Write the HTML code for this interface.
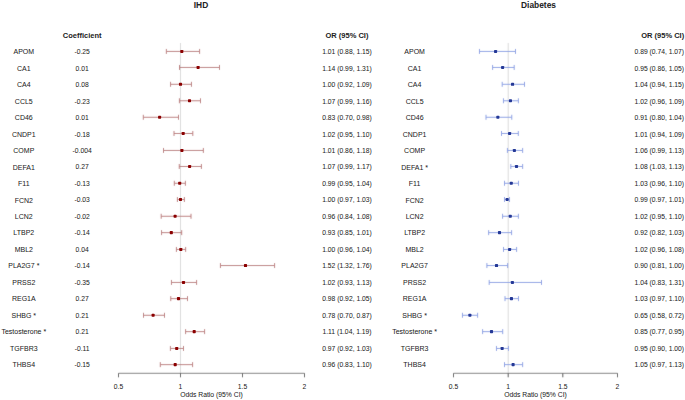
<!DOCTYPE html><html><head><meta charset="utf-8"><title>Forest plot</title><style>html,body{margin:0;padding:0;background:#fff;width:685px;height:400px;overflow:hidden}svg{display:block}text{font-family:"Liberation Sans",sans-serif;text-anchor:middle;fill:#222;stroke:#222;stroke-width:0.03px}path{fill:none;stroke-width:1}</style></head><body>
<svg width="685" height="400" viewBox="0 0 685 400">
<defs><filter id="bl" x="0" y="0" width="100%" height="100%"><feConvolveMatrix order="3" kernelMatrix="0.015 0.06 0.015 0.06 0.7 0.06 0.015 0.06 0.015" divisor="1" preserveAlpha="false" edgeMode="duplicate"/></filter></defs>
<rect width="685" height="400" fill="#fff"/>
<g filter="url(#bl)"><rect width="685" height="400" fill="#fff"/>
<path d="M180.5 43V373.3" stroke="#dadada"/>
<path d="M508.2 43V373.3" stroke="#dadada"/>
<path d="M118.5 373.3H304.5" stroke="#7d7d7d"/>
<path d="M118.5 373.3v4.0M180.5 373.3v4.0M242.5 373.3v4.0M304.5 373.3v4.0" stroke="#505050"/>
<path d="M453.5 373.3H617.5" stroke="#7d7d7d"/>
<path d="M453.5 373.3v4.0M508.2 373.3v4.0M562.8 373.3v4.0M617.5 373.3v4.0" stroke="#505050"/>
<path d="M166.35 51.43H199.60M166.35 48.93V53.93M199.60 48.93V53.93M179.50 67.45H219.50M179.50 64.95V69.95M219.50 64.95V69.95M170.55 84.30H191.46M170.55 81.80V86.80M191.46 81.80V86.80M179.40 100.77H200.50M179.40 98.27V103.27M200.50 98.27V103.27M143.30 117.27H178.50M143.30 114.77V119.77M178.50 114.77V119.77M174.00 133.47H192.80M174.00 130.97V135.97M192.80 130.97V135.97M163.50 150.44H203.35M163.50 147.94V152.94M203.35 147.94V152.94M179.26 166.47H201.40M179.26 163.97V168.97M201.40 163.97V168.97M174.30 183.27H185.40M174.30 180.77V185.77M185.40 180.77V185.77M177.40 199.50H184.36M177.40 197.00V202.00M184.36 197.00V202.00M161.20 216.27H191.00M161.20 213.77V218.77M191.00 213.77V218.77M161.56 232.64H181.70M161.56 230.14V235.14M181.70 230.14V235.14M176.40 249.44H185.65M176.40 246.94V251.94M185.65 246.94V251.94M220.43 265.55H274.60M220.43 263.05V268.05M274.60 263.05V268.05M171.45 282.44H196.60M171.45 279.94V284.94M196.60 279.94V284.94M170.75 298.64H187.50M170.75 296.14V301.14M187.50 296.14V301.14M143.50 315.27H164.50M143.50 312.77V317.77M164.50 312.77V317.77M185.60 331.64H204.60M185.60 329.14V334.14M204.60 329.14V334.14M170.40 348.44H183.50M170.40 345.94V350.94M183.50 345.94V350.94M160.30 364.64H192.60M160.30 362.14V367.14M192.60 362.14V367.14" stroke="#bc7c7c"/>
<path d="M479.46 51.43H515.50M479.46 48.93V53.93M515.50 48.93V53.93M492.60 67.45H514.20M492.60 64.95V69.95M514.20 64.95V69.95M502.20 84.30H524.50M502.20 81.80V86.80M524.50 81.80V86.80M503.45 100.77H518.40M503.45 98.27V103.27M518.40 98.27V103.27M486.00 117.27H511.77M486.00 114.77V119.77M511.77 114.77V119.77M501.50 133.47H518.30M501.50 130.97V135.97M518.30 130.97V135.97M507.40 150.44H522.65M507.40 147.94V152.94M522.65 147.94V152.94M510.80 166.47H522.65M510.80 163.97V168.97M522.65 163.97V168.97M504.50 183.27H518.50M504.50 180.77V185.77M518.50 180.77V185.77M504.50 199.50H509.50M504.50 197.00V202.00M509.50 197.00V202.00M502.57 216.27H518.40M502.57 213.77V218.77M518.40 213.77V218.77M488.65 232.64H511.60M488.65 230.14V235.14M511.60 230.14V235.14M503.50 249.44H516.60M503.50 246.94V251.94M516.60 246.94V251.94M486.90 265.55H507.65M486.90 263.05V268.05M507.65 263.05V268.05M489.20 282.44H541.50M489.20 279.94V284.94M541.50 279.94V284.94M505.00 298.64H518.50M505.00 296.14V301.14M518.50 296.14V301.14M462.44 315.27H477.60M462.44 312.77V317.77M477.60 312.77V317.77M482.60 331.64H502.70M482.60 329.14V334.14M502.70 329.14V334.14M496.46 348.44H508.46M496.46 345.94V350.94M508.46 345.94V350.94M504.50 364.64H522.65M504.50 362.14V367.14M522.65 362.14V367.14" stroke="#8ba0e4"/>
</g>
<g fill="#8b0000"><rect x="180.25" y="49.88" width="3.1" height="3.1" rx="0.7"/><rect x="196.55" y="65.90" width="3.1" height="3.1" rx="0.7"/><rect x="178.95" y="82.75" width="3.1" height="3.1" rx="0.7"/><rect x="187.95" y="99.22" width="3.1" height="3.1" rx="0.7"/><rect x="158.05" y="115.72" width="3.1" height="3.1" rx="0.7"/><rect x="181.65" y="131.92" width="3.1" height="3.1" rx="0.7"/><rect x="180.35" y="148.89" width="3.1" height="3.1" rx="0.7"/><rect x="188.05" y="164.92" width="3.1" height="3.1" rx="0.7"/><rect x="178.15" y="181.72" width="3.1" height="3.1" rx="0.7"/><rect x="178.95" y="197.95" width="3.1" height="3.1" rx="0.7"/><rect x="173.55" y="214.72" width="3.1" height="3.1" rx="0.7"/><rect x="169.75" y="231.09" width="3.1" height="3.1" rx="0.7"/><rect x="179.25" y="247.89" width="3.1" height="3.1" rx="0.7"/><rect x="243.95" y="264.00" width="3.1" height="3.1" rx="0.7"/><rect x="181.95" y="280.89" width="3.1" height="3.1" rx="0.7"/><rect x="176.95" y="297.09" width="3.1" height="3.1" rx="0.7"/><rect x="151.55" y="313.72" width="3.1" height="3.1" rx="0.7"/><rect x="192.65" y="330.09" width="3.1" height="3.1" rx="0.7"/><rect x="175.15" y="346.89" width="3.1" height="3.1" rx="0.7"/><rect x="173.65" y="363.09" width="3.1" height="3.1" rx="0.7"/></g>
<g fill="#243896"><rect x="494.02" y="49.88" width="3.1" height="3.1" rx="0.7"/><rect x="501.05" y="65.90" width="3.1" height="3.1" rx="0.7"/><rect x="511.00" y="82.75" width="3.1" height="3.1" rx="0.7"/><rect x="508.90" y="99.22" width="3.1" height="3.1" rx="0.7"/><rect x="496.30" y="115.72" width="3.1" height="3.1" rx="0.7"/><rect x="508.05" y="131.92" width="3.1" height="3.1" rx="0.7"/><rect x="512.85" y="148.89" width="3.1" height="3.1" rx="0.7"/><rect x="514.95" y="164.92" width="3.1" height="3.1" rx="0.7"/><rect x="509.71" y="181.72" width="3.1" height="3.1" rx="0.7"/><rect x="505.60" y="197.95" width="3.1" height="3.1" rx="0.7"/><rect x="508.73" y="214.72" width="3.1" height="3.1" rx="0.7"/><rect x="497.95" y="231.09" width="3.1" height="3.1" rx="0.7"/><rect x="508.05" y="247.89" width="3.1" height="3.1" rx="0.7"/><rect x="494.95" y="264.00" width="3.1" height="3.1" rx="0.7"/><rect x="510.85" y="280.89" width="3.1" height="3.1" rx="0.7"/><rect x="509.90" y="297.09" width="3.1" height="3.1" rx="0.7"/><rect x="468.35" y="313.72" width="3.1" height="3.1" rx="0.7"/><rect x="489.95" y="330.09" width="3.1" height="3.1" rx="0.7"/><rect x="500.60" y="346.89" width="3.1" height="3.1" rx="0.7"/><rect x="511.55" y="363.09" width="3.1" height="3.1" rx="0.7"/></g>
<text transform="translate(201.00 8.10) scale(1 1.07)" font-size="8.4" font-weight="bold">IHD</text>
<text transform="translate(538.50 8.10) scale(1 1.07)" font-size="8.4" font-weight="bold">Diabetes</text>
<text transform="translate(82.10 37.90) scale(1 1.0)" font-size="7.5" font-weight="bold">Coefficient</text>
<text transform="translate(347.00 37.90) scale(1 1.0)" font-size="7.5" font-weight="bold">OR (95% CI)</text>
<text transform="translate(662.70 37.90) scale(1 1.0)" font-size="7.5" font-weight="bold">OR (95% CI)</text>
<text x="118.50" y="388.80" font-size="6.75">0.5</text>
<text x="180.50" y="388.80" font-size="6.75">1</text>
<text x="242.50" y="388.80" font-size="6.75">1.5</text>
<text x="304.50" y="388.80" font-size="6.75">2</text>
<text x="211.50" y="396.80" font-size="6.8">Odds Ratio (95% CI)</text>
<text x="453.50" y="388.80" font-size="6.75">0.5</text>
<text x="508.17" y="388.80" font-size="6.75">1</text>
<text x="562.83" y="388.80" font-size="6.75">1.5</text>
<text x="617.50" y="388.80" font-size="6.75">2</text>
<text x="535.50" y="396.80" font-size="6.8">Odds Ratio (95% CI)</text>
<text transform="translate(23.80 54.21) scale(1 1.0)" font-size="7.0">APOM</text>
<text transform="translate(82.10 54.12) scale(1 1.0)" font-size="6.75">-0.25</text>
<text transform="translate(347.00 54.12) scale(1 1.0)" font-size="6.75">1.01 (0.88, 1.15)</text>
<text transform="translate(23.80 70.69) scale(1 1.0)" font-size="7.0">CA1</text>
<text transform="translate(82.10 70.60) scale(1 1.0)" font-size="6.75">0.01</text>
<text transform="translate(347.00 70.60) scale(1 1.0)" font-size="6.75">1.14 (0.99, 1.31)</text>
<text transform="translate(23.80 87.17) scale(1 1.0)" font-size="7.0">CA4</text>
<text transform="translate(82.10 87.08) scale(1 1.0)" font-size="6.75">0.08</text>
<text transform="translate(347.00 87.08) scale(1 1.0)" font-size="6.75">1.00 (0.92, 1.09)</text>
<text transform="translate(23.80 103.65) scale(1 1.0)" font-size="7.0">CCL5</text>
<text transform="translate(82.10 103.56) scale(1 1.0)" font-size="6.75">-0.23</text>
<text transform="translate(347.00 103.56) scale(1 1.0)" font-size="6.75">1.07 (0.99, 1.16)</text>
<text transform="translate(23.80 120.13) scale(1 1.0)" font-size="7.0">CD46</text>
<text transform="translate(82.10 120.04) scale(1 1.0)" font-size="6.75">0.01</text>
<text transform="translate(347.00 120.04) scale(1 1.0)" font-size="6.75">0.83 (0.70, 0.98)</text>
<text transform="translate(23.80 136.61) scale(1 1.0)" font-size="7.0">CNDP1</text>
<text transform="translate(82.10 136.52) scale(1 1.0)" font-size="6.75">-0.18</text>
<text transform="translate(347.00 136.52) scale(1 1.0)" font-size="6.75">1.02 (0.95, 1.10)</text>
<text transform="translate(23.80 153.09) scale(1 1.0)" font-size="7.0">COMP</text>
<text transform="translate(82.10 153.00) scale(1 1.0)" font-size="6.75">-0.004</text>
<text transform="translate(347.00 153.00) scale(1 1.0)" font-size="6.75">1.01 (0.86, 1.18)</text>
<text transform="translate(23.80 169.57) scale(1 1.0)" font-size="7.0">DEFA1</text>
<text transform="translate(82.10 169.48) scale(1 1.0)" font-size="6.75">0.27</text>
<text transform="translate(347.00 169.48) scale(1 1.0)" font-size="6.75">1.07 (0.99, 1.17)</text>
<text transform="translate(23.80 186.05) scale(1 1.0)" font-size="7.0">F11</text>
<text transform="translate(82.10 185.96) scale(1 1.0)" font-size="6.75">-0.13</text>
<text transform="translate(347.00 185.96) scale(1 1.0)" font-size="6.75">0.99 (0.95, 1.04)</text>
<text transform="translate(23.80 202.53) scale(1 1.0)" font-size="7.0">FCN2</text>
<text transform="translate(82.10 202.44) scale(1 1.0)" font-size="6.75">-0.03</text>
<text transform="translate(347.00 202.44) scale(1 1.0)" font-size="6.75">1.00 (0.97, 1.03)</text>
<text transform="translate(23.80 219.01) scale(1 1.0)" font-size="7.0">LCN2</text>
<text transform="translate(82.10 218.92) scale(1 1.0)" font-size="6.75">-0.02</text>
<text transform="translate(347.00 218.92) scale(1 1.0)" font-size="6.75">0.96 (0.84, 1.08)</text>
<text transform="translate(23.80 235.49) scale(1 1.0)" font-size="7.0">LTBP2</text>
<text transform="translate(82.10 235.40) scale(1 1.0)" font-size="6.75">-0.14</text>
<text transform="translate(347.00 235.40) scale(1 1.0)" font-size="6.75">0.93 (0.85, 1.01)</text>
<text transform="translate(23.80 251.97) scale(1 1.0)" font-size="7.0">MBL2</text>
<text transform="translate(82.10 251.88) scale(1 1.0)" font-size="6.75">0.04</text>
<text transform="translate(347.00 251.88) scale(1 1.0)" font-size="6.75">1.00 (0.96, 1.04)</text>
<text transform="translate(23.80 268.45) scale(1 1.0)" font-size="7.0">PLA2G7 *</text>
<text transform="translate(82.10 268.36) scale(1 1.0)" font-size="6.75">-0.14</text>
<text transform="translate(347.00 268.36) scale(1 1.0)" font-size="6.75">1.52 (1.32, 1.76)</text>
<text transform="translate(23.80 284.93) scale(1 1.0)" font-size="7.0">PRSS2</text>
<text transform="translate(82.10 284.84) scale(1 1.0)" font-size="6.75">-0.35</text>
<text transform="translate(347.00 284.84) scale(1 1.0)" font-size="6.75">1.02 (0.93, 1.13)</text>
<text transform="translate(23.80 301.41) scale(1 1.0)" font-size="7.0">REG1A</text>
<text transform="translate(82.10 301.32) scale(1 1.0)" font-size="6.75">0.27</text>
<text transform="translate(347.00 301.32) scale(1 1.0)" font-size="6.75">0.98 (0.92, 1.05)</text>
<text transform="translate(23.80 317.89) scale(1 1.0)" font-size="7.0">SHBG *</text>
<text transform="translate(82.10 317.80) scale(1 1.0)" font-size="6.75">0.21</text>
<text transform="translate(347.00 317.80) scale(1 1.0)" font-size="6.75">0.78 (0.70, 0.87)</text>
<text transform="translate(23.80 334.37) scale(1 1.0)" font-size="7.0">Testosterone *</text>
<text transform="translate(82.10 334.28) scale(1 1.0)" font-size="6.75">0.21</text>
<text transform="translate(347.00 334.28) scale(1 1.0)" font-size="6.75">1.11 (1.04, 1.19)</text>
<text transform="translate(23.80 350.85) scale(1 1.0)" font-size="7.0">TGFBR3</text>
<text transform="translate(82.10 350.76) scale(1 1.0)" font-size="6.75">-0.11</text>
<text transform="translate(347.00 350.76) scale(1 1.0)" font-size="6.75">0.97 (0.92, 1.03)</text>
<text transform="translate(23.80 367.33) scale(1 1.0)" font-size="7.0">THBS4</text>
<text transform="translate(82.10 367.24) scale(1 1.0)" font-size="6.75">-0.15</text>
<text transform="translate(347.00 367.24) scale(1 1.0)" font-size="6.75">0.96 (0.83, 1.10)</text>
<text transform="translate(414.60 54.21) scale(1 1.0)" font-size="7.0">APOM</text>
<text transform="translate(659.30 54.12) scale(1 1.0)" font-size="6.75">0.89 (0.74, 1.07)</text>
<text transform="translate(414.60 70.69) scale(1 1.0)" font-size="7.0">CA1</text>
<text transform="translate(659.30 70.60) scale(1 1.0)" font-size="6.75">0.95 (0.86, 1.05)</text>
<text transform="translate(414.60 87.17) scale(1 1.0)" font-size="7.0">CA4</text>
<text transform="translate(659.30 87.08) scale(1 1.0)" font-size="6.75">1.04 (0.94, 1.15)</text>
<text transform="translate(414.60 103.65) scale(1 1.0)" font-size="7.0">CCL5</text>
<text transform="translate(659.30 103.56) scale(1 1.0)" font-size="6.75">1.02 (0.96, 1.09)</text>
<text transform="translate(414.60 120.13) scale(1 1.0)" font-size="7.0">CD46</text>
<text transform="translate(659.30 120.04) scale(1 1.0)" font-size="6.75">0.91 (0.80, 1.04)</text>
<text transform="translate(414.60 136.61) scale(1 1.0)" font-size="7.0">CNDP1</text>
<text transform="translate(659.30 136.52) scale(1 1.0)" font-size="6.75">1.01 (0.94, 1.09)</text>
<text transform="translate(414.60 153.09) scale(1 1.0)" font-size="7.0">COMP</text>
<text transform="translate(659.30 153.00) scale(1 1.0)" font-size="6.75">1.06 (0.99, 1.13)</text>
<text transform="translate(414.60 169.57) scale(1 1.0)" font-size="7.0">DEFA1 *</text>
<text transform="translate(659.30 169.48) scale(1 1.0)" font-size="6.75">1.08 (1.03, 1.13)</text>
<text transform="translate(414.60 186.05) scale(1 1.0)" font-size="7.0">F11</text>
<text transform="translate(659.30 185.96) scale(1 1.0)" font-size="6.75">1.03 (0.96, 1.10)</text>
<text transform="translate(414.60 202.53) scale(1 1.0)" font-size="7.0">FCN2</text>
<text transform="translate(659.30 202.44) scale(1 1.0)" font-size="6.75">0.99 (0.97, 1.01)</text>
<text transform="translate(414.60 219.01) scale(1 1.0)" font-size="7.0">LCN2</text>
<text transform="translate(659.30 218.92) scale(1 1.0)" font-size="6.75">1.02 (0.95, 1.10)</text>
<text transform="translate(414.60 235.49) scale(1 1.0)" font-size="7.0">LTBP2</text>
<text transform="translate(659.30 235.40) scale(1 1.0)" font-size="6.75">0.92 (0.82, 1.03)</text>
<text transform="translate(414.60 251.97) scale(1 1.0)" font-size="7.0">MBL2</text>
<text transform="translate(659.30 251.88) scale(1 1.0)" font-size="6.75">1.02 (0.96, 1.08)</text>
<text transform="translate(414.60 268.45) scale(1 1.0)" font-size="7.0">PLA2G7</text>
<text transform="translate(659.30 268.36) scale(1 1.0)" font-size="6.75">0.90 (0.81, 1.00)</text>
<text transform="translate(414.60 284.93) scale(1 1.0)" font-size="7.0">PRSS2</text>
<text transform="translate(659.30 284.84) scale(1 1.0)" font-size="6.75">1.04 (0.83, 1.31)</text>
<text transform="translate(414.60 301.41) scale(1 1.0)" font-size="7.0">REG1A</text>
<text transform="translate(659.30 301.32) scale(1 1.0)" font-size="6.75">1.03 (0.97, 1.10)</text>
<text transform="translate(414.60 317.89) scale(1 1.0)" font-size="7.0">SHBG *</text>
<text transform="translate(659.30 317.80) scale(1 1.0)" font-size="6.75">0.65 (0.58, 0.72)</text>
<text transform="translate(414.60 334.37) scale(1 1.0)" font-size="7.0">Testosterone *</text>
<text transform="translate(659.30 334.28) scale(1 1.0)" font-size="6.75">0.85 (0.77, 0.95)</text>
<text transform="translate(414.60 350.85) scale(1 1.0)" font-size="7.0">TGFBR3</text>
<text transform="translate(659.30 350.76) scale(1 1.0)" font-size="6.75">0.95 (0.90, 1.00)</text>
<text transform="translate(414.60 367.33) scale(1 1.0)" font-size="7.0">THBS4</text>
<text transform="translate(659.30 367.24) scale(1 1.0)" font-size="6.75">1.05 (0.97, 1.13)</text>
</svg></body></html>
